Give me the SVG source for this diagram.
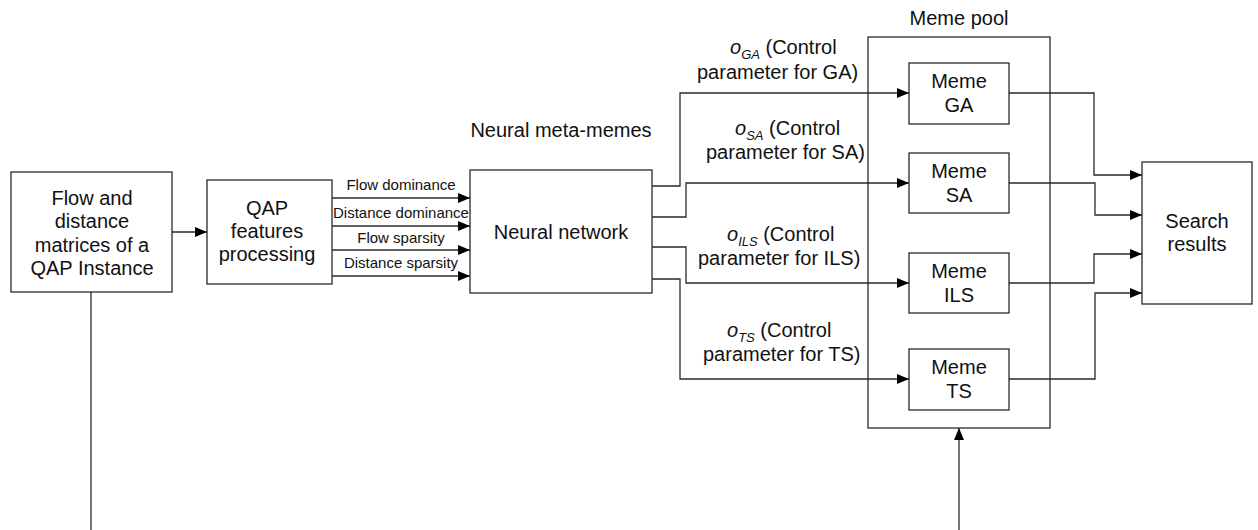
<svg xmlns="http://www.w3.org/2000/svg" width="1258" height="530" viewBox="0 0 1258 530">
  <style>
    .box { fill: #ffffff; stroke: #2a2a2a; stroke-width: 1.3; }
    .pool { fill: none; stroke: #2a2a2a; stroke-width: 1.3; }
    .wire { fill: none; stroke: #2a2a2a; stroke-width: 1.3; }
    .lbl { font-family: "Liberation Sans", Arial, sans-serif; font-size: 20px; fill: #111; }
    .mid { text-anchor: middle; }
    .small { font-family: "Liberation Sans", Arial, sans-serif; font-size: 15px; fill: #111; text-anchor: middle; }
    .it { font-style: italic; }
    .sub { font-style: italic; font-size: 13px; }
  </style>
  <defs>
    <marker id="arrow" markerUnits="userSpaceOnUse" markerWidth="12" markerHeight="10" refX="12" refY="5" orient="auto">
      <path d="M0,0 L12,5 L0,10 z" fill="#000"/>
    </marker>
  </defs>

  <!-- connectors -->
  <g id="connectors">
    <path class="wire" d="M91,292 V530"/>
    <path class="wire" d="M172,232 H207" marker-end="url(#arrow)"/>
    <path class="wire" d="M332,198 H470" marker-end="url(#arrow)"/>
    <path class="wire" d="M332,226 H470" marker-end="url(#arrow)"/>
    <path class="wire" d="M332,250 H470" marker-end="url(#arrow)"/>
    <path class="wire" d="M332,276 H470" marker-end="url(#arrow)"/>
    <path class="wire" d="M652,186 H680 V93 H909" marker-end="url(#arrow)"/>
    <path class="wire" d="M652,217 H686 V183 H909" marker-end="url(#arrow)"/>
    <path class="wire" d="M652,247 H686 V283 H909" marker-end="url(#arrow)"/>
    <path class="wire" d="M652,279 H680 V379 H909" marker-end="url(#arrow)"/>
    <path class="wire" d="M1009,93 H1094 V175 H1142" marker-end="url(#arrow)"/>
    <path class="wire" d="M1009,183 H1095 V215 H1142" marker-end="url(#arrow)"/>
    <path class="wire" d="M1009,283 H1094 V254 H1142" marker-end="url(#arrow)"/>
    <path class="wire" d="M1009,379 H1095 V293 H1142" marker-end="url(#arrow)"/>
    <path class="wire" d="M959,530 V428" marker-end="url(#arrow)"/>
    <text class="small" x="401" y="190">Flow dominance</text>
    <text class="small" x="401" y="218">Distance dominance</text>
    <text class="small" x="401" y="243">Flow sparsity</text>
    <text class="small" x="401" y="268">Distance sparsity</text>
    <text class="lbl"><tspan x="730" y="54" class="it">o</tspan><tspan class="sub" dy="5">GA</tspan><tspan dy="-5"> (Control</tspan></text>
    <text class="lbl" x="697" y="79">parameter for GA)</text>
    <text class="lbl"><tspan x="735" y="135" class="it">o</tspan><tspan class="sub" dy="5">SA</tspan><tspan dy="-5"> (Control</tspan></text>
    <text class="lbl" x="706" y="159">parameter for SA)</text>
    <text class="lbl"><tspan x="727" y="241" class="it">o</tspan><tspan class="sub" dy="5">ILS</tspan><tspan dy="-5"> (Control</tspan></text>
    <text class="lbl" x="698" y="265">parameter for ILS)</text>
    <text class="lbl"><tspan x="727" y="337" class="it">o</tspan><tspan class="sub" dy="5">TS</tspan><tspan dy="-5"> (Control</tspan></text>
    <text class="lbl" x="703" y="361">parameter for TS)</text>
  </g>

  <g id="qap-instance">
    <rect class="box" x="11" y="172" width="161" height="120"/>
    <text class="lbl mid"><tspan x="92" y="205">Flow and</tspan><tspan x="92" y="228">distance</tspan><tspan x="92" y="252">matrices of a</tspan><tspan x="92" y="275">QAP Instance</tspan></text>
  </g>

  <g id="feature-processing">
    <rect class="box" x="207" y="180" width="125" height="104"/>
    <text class="lbl mid"><tspan x="267" y="215">QAP</tspan><tspan x="267" y="238">features</tspan><tspan x="267" y="261">processing</tspan></text>
  </g>

  <g id="neural-network">
    <text class="lbl mid" x="561" y="137">Neural meta-memes</text>
    <rect class="box" x="470" y="170" width="182" height="123"/>
    <text class="lbl mid" x="561" y="239">Neural network</text>
  </g>

  <g id="meme-pool">
    <text class="lbl mid" x="959" y="25">Meme pool</text>
    <rect class="pool" x="868" y="37" width="182" height="391"/>
  </g>

  <g id="meme-ga">
    <rect class="box" x="909" y="63" width="100" height="61"/>
    <text class="lbl mid"><tspan x="959" y="88">Meme</tspan><tspan x="959" y="112">GA</tspan></text>
  </g>

  <g id="meme-sa">
    <rect class="box" x="909" y="153" width="100" height="60"/>
    <text class="lbl mid"><tspan x="959" y="178">Meme</tspan><tspan x="959" y="202">SA</tspan></text>
  </g>

  <g id="meme-ils">
    <rect class="box" x="909" y="253" width="100" height="60"/>
    <text class="lbl mid"><tspan x="959" y="278">Meme</tspan><tspan x="959" y="302">ILS</tspan></text>
  </g>

  <g id="meme-ts">
    <rect class="box" x="909" y="349" width="100" height="61"/>
    <text class="lbl mid"><tspan x="959" y="374">Meme</tspan><tspan x="959" y="398">TS</tspan></text>
  </g>

  <g id="search-results">
    <rect class="box" x="1142" y="162" width="110" height="142"/>
    <text class="lbl mid"><tspan x="1197" y="228">Search</tspan><tspan x="1197" y="251">results</tspan></text>
  </g>
</svg>
